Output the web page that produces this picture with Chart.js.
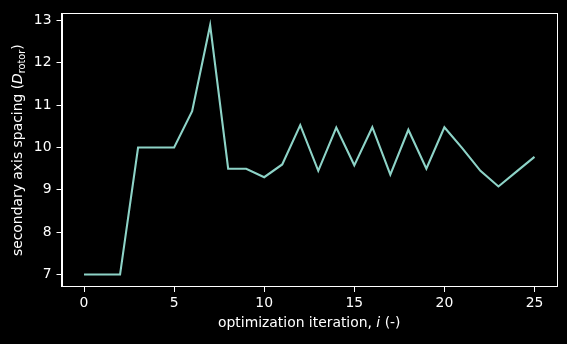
<!DOCTYPE html>
<html>
<head>
<meta charset="utf-8">
<script src="https://cdn.jsdelivr.net/npm/chart.js@4.4.1/dist/chart.umd.min.js"></script>
<style>
  html, body { margin: 0; padding: 0; background: #000; }
  #wrap { width: 567px; height: 344px; }
</style>
</head>
<body>
<div id="wrap"><canvas id="chart" width="567" height="344"></canvas></div>
<script>
// --- DATA ---
const iterations = [0, 1, 2, 3, 4, 5, 6, 7, 8, 9, 10, 11, 12, 13, 14, 15, 16, 17, 18, 19, 20, 21, 22, 23, 24, 25];
const spacing = [7.00, 7.00, 7.00, 10.00, 10.00, 10.00, 10.86, 12.89, 9.50, 9.50, 9.30, 9.60, 10.53,
                 9.45, 10.47, 9.58, 10.48, 9.36, 10.42, 9.50, 10.48, 9.98, 9.45, 9.08, 9.43, 9.78];
const xTicks = [0, 5, 10, 15, 20, 25];
const yTicks = [7, 8, 9, 10, 11, 12, 13];

const FONT = 'DejaVu Sans';
const FSIZE = 13.9;
const FG = '#ffffff';

// fondo negro + marco del área y títulos de ejes con cursiva/subíndice
const framePlugin = {
  id: 'frame',
  beforeDraw(chart) {
    const ctx = chart.ctx;
    ctx.save();
    ctx.fillStyle = '#000';
    ctx.fillRect(0, 0, chart.width, chart.height);
    ctx.restore();
  },
  afterDraw(chart) {
    const { ctx, chartArea: a } = chart;
    ctx.save();
    ctx.strokeStyle = FG;
    ctx.lineWidth = 1;
    ctx.strokeRect(Math.round(a.left) + 0.5, Math.round(a.top) + 0.5,
                   Math.round(a.right - a.left) - 1, Math.round(a.bottom - a.top) - 1);

    ctx.fillStyle = FG;
    ctx.textBaseline = 'middle';
    const normal = `${FSIZE}px "${FONT}"`;
    const italic = `italic ${FSIZE}px "${FONT}"`;
    const small = `${FSIZE * 0.7}px "${FONT}"`;

    // eje x
    const xParts = [
      { t: 'optimization iteration, ', f: normal, dy: 0 },
      { t: 'i', f: italic, dy: 0 },
      { t: ' (-)', f: normal, dy: 0 }
    ];
    drawParts(ctx, xParts, (a.left + a.right) / 2, 323.5, 0);

    // eje y
    const yParts = [
      { t: 'secondary axis spacing (', f: normal, dy: 0 },
      { t: 'D', f: italic, dy: 0 },
      { t: 'rotor', f: small, dy: 3.5 },
      { t: ')', f: normal, dy: 0 }
    ];
    drawParts(ctx, yParts, 18.5, (a.top + a.bottom) / 2, -Math.PI / 2);
    ctx.restore();
  }
};

function drawParts(ctx, parts, cx, cy, rot) {
  let total = 0;
  parts.forEach(p => { ctx.font = p.f; p.w = ctx.measureText(p.t).width; total += p.w; });
  ctx.save();
  ctx.translate(cx, cy);
  ctx.rotate(rot);
  let x = -total / 2;
  ctx.textAlign = 'left';
  parts.forEach(p => {
    ctx.font = p.f;
    ctx.fillText(p.t, x, p.dy);
    x += p.w;
  });
  ctx.restore();
}

const axisCommon = {
  grid: { drawOnChartArea: false, drawTicks: true, tickLength: 5, color: FG, lineWidth: 1 },
  border: { display: true, color: FG, width: 1 },
  ticks: { color: FG, font: { family: FONT, size: FSIZE }, padding: 4 }
};

new Chart(document.getElementById('chart').getContext('2d'), {
  type: 'line',
  data: {
    datasets: [{
      data: iterations.map((x, i) => ({ x, y: spacing[i] })),
      borderColor: '#8dd3c7',
      borderWidth: 2.1,
      pointRadius: 0,
      tension: 0,
      fill: false
    }]
  },
  options: {
    responsive: false,
    animation: false,
    devicePixelRatio: 1,
    layout: { padding: { top: 10, right: 10, left: 0, bottom: 0 } },
    plugins: { legend: { display: false }, tooltip: { enabled: false } },
    scales: {
      x: {
        ...axisCommon,
        type: 'linear',
        min: -1.25,
        max: 26.25,
        afterBuildTicks: s => { s.ticks = xTicks.map(v => ({ value: v })); },
        afterFit: s => { s.height = 57; },
        ticks: { ...axisCommon.ticks, padding: 3, maxRotation: 0 }
      },
      y: {
        ...axisCommon,
        type: 'linear',
        min: 6.706,
        max: 13.17,
        afterBuildTicks: s => { s.ticks = yTicks.map(v => ({ value: v })); },
        afterFit: s => { s.width = 61.5; },
        ticks: { ...axisCommon.ticks, padding: 5 }
      }
    }
  },
  plugins: [framePlugin]
});
</script>
</body>
</html>
